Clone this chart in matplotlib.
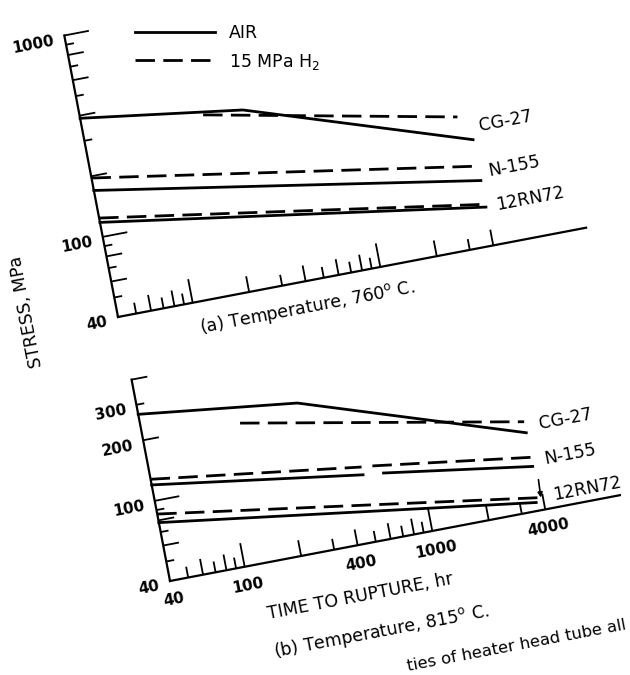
import numpy as np
import matplotlib
matplotlib.use("Agg")
import matplotlib.pyplot as plt
from matplotlib.transforms import Affine2D, blended_transform_factory
from matplotlib.scale import LogTransform
import mpl_toolkits.axisartist.floating_axes as floating_axes
from mpl_toolkits.axisartist.grid_finder import FixedLocator

plt.rcParams['font.family'] = ['DejaVu Sans']

# ------------------------------------------------------------------ data
hour_ticks = [50, 60, 70, 80, 90, 100, 200, 300, 400, 500, 600, 700, 800, 900,
              1000, 2000, 3000, 4000]
hour_labels_b = {40: "40", 100: "100", 400: "400", 1000: "1000", 4000: "4000"}
stress_ticks_a = [50, 60, 70, 80, 90, 100, 200, 300, 400, 500, 600, 700, 800, 900, 1000]
stress_labels_a = {40: "40", 100: "100", 1000: "1000"}
stress_ticks_b = [50, 60, 70, 80, 90, 100, 200, 300, 400]
stress_labels_b = {40: "40", 100: "100", 200: "200", 300: "300"}

alloys = ["CG-27", "N-155", "12RN72"]
environments = ["AIR", "15 MPa H$_2$"]

# (a) 760 C  -- time to rupture (hr) / stress (MPa)
a_cg27_air_hr = [40, 280, 4000]
a_cg27_air_mpa = [388, 302, 134]
a_cg27_h2_hr = [173, 3500]
a_cg27_h2_mpa = [311, 178]
a_n155_air_hr = [40, 4000]
a_n155_air_mpa = [170, 84]
a_n155_h2_hr = [40, 4000]
a_n155_h2_mpa = [196, 99]
a_12rn72_air_hr = [40, 4000]
a_12rn72_air_mpa = [118, 62]
a_12rn72_h2_hr = [40, 4000]
a_12rn72_h2_mpa = [124, 64]

# (b) 815 C
b_cg27_air_hr = [40, 270, 3800]
b_cg27_air_mpa = [269, 218, 97]
b_cg27_h2_hr = [131, 3800]
b_cg27_h2_mpa = [197, 110]
b_n155_air_hr = [40, 500, np.nan, 640, 3800]
b_n155_air_mpa = [120, 86, np.nan, 84, 66]
b_n155_h2_hr = [40, 500, np.nan, 570, 3900]
b_n155_h2_mpa = [128, 94, np.nan, 93, 73]
b_12rn72_air_hr = [40, 3650]
b_12rn72_air_mpa = [78, 44]
b_12rn72_h2_hr = [40, 3900]
b_12rn72_h2_mpa = [86, 46]

# ------------------------------------------------------------------ style
FIG_W, FIG_H = 630, 675
THETA = 10.8                 # tilt of the scanned page (deg)
PX_X, PX_Y = 191.0, 205.0    # pixels per decade
LW = 2.0
DASH = (0, (7, 3))
th = np.deg2rad(THETA)
U = np.array([np.cos(th), np.sin(th)])
V = np.array([-np.sin(th), np.cos(th)])


def foff(ds, dt):
    return tuple(ds * U + dt * V)


def tick_len(v, major, even, odd):
    if v in (100, 1000):
        return major
    return even if int(str(int(v))[0]) % 2 == 0 else odd


fig = plt.figure(figsize=(FIG_W / 100, FIG_H / 100), dpi=100)
fig.patch.set_facecolor("white")


def make_panel(corner_px, x_end, y_top, y_ticks):
    log_tr = blended_transform_factory(LogTransform(10), LogTransform(10))
    aux_tr = log_tr + Affine2D().scale(PX_X, PX_Y).rotate_deg(THETA)
    gh = floating_axes.GridHelperCurveLinear(
        aux_tr, extremes=(40, x_end, 40, y_top),
        grid_locator1=FixedLocator(hour_ticks),
        grid_locator2=FixedLocator(y_ticks))
    ax = fig.add_axes([0.1, 0.1, 0.8, 0.8], axes_class=floating_axes.FloatingAxes,
                      grid_helper=gh)
    x0, x1 = ax.get_xlim()
    y0, y1 = ax.get_ylim()
    cx, cy = aux_tr.transform((40, 40))
    w, h = x1 - x0, y1 - y0
    left = corner_px[0] - (cx - x0)
    bottom = (FIG_H - corner_px[1]) - (cy - y0)
    ax.set_position([left / FIG_W, bottom / FIG_H, w / FIG_W, h / FIG_H])
    ax.set_aspect("auto")
    for side in ["top", "right"]:
        ax.axis[side].set_visible(False)
    for side in ["left", "bottom"]:
        ax.axis[side].toggle(ticks=False, ticklabels=False, label=False)
        ax.axis[side].line.set_linewidth(1.6)
    aux = ax.get_aux_axes(aux_tr)
    # ticks (inside, hand-drawn look: long / medium / short)
    for v in hour_ticks:
        L = tick_len(v, 24, 16, 11)
        aux.plot([v, v], [40, 40 * 10 ** (L / PX_Y)], color="k", lw=1.3,
                 solid_capstyle="butt", clip_on=False)
    for v in y_ticks:
        L = tick_len(v, 25, 16, 8)
        aux.plot([40, 40 * 10 ** (L / PX_X)], [v, v], color="k", lw=1.3,
                 solid_capstyle="butt", clip_on=False)
    return ax, aux


def series(aux, hr, mpa, dashed):
    ls = DASH if dashed else "-"
    ln, = aux.plot(hr, mpa, color="k", lw=LW, linestyle=ls, clip_on=False)
    return ln


def ytick_labels(aux, labels):
    for v, t in labels.items():
        aux.annotate(t, xy=(40, v), xytext=foff(-11, -3), textcoords="offset pixels",
                     rotation=THETA, rotation_mode="anchor", ha="right", va="center",
                     fontsize=11, fontweight="bold", annotation_clip=False)


def xtick_labels(aux, labels):
    for v, t in labels.items():
        aux.annotate(t, xy=(v, 40), xytext=foff(0, -19), textcoords="offset pixels",
                     rotation=THETA, rotation_mode="anchor", ha="center", va="center",
                     fontsize=11, fontweight="bold", annotation_clip=False)


def series_label(aux, text, hr, mpa, off):
    aux.annotate(text, xy=(hr[-1], mpa[-1]), xytext=foff(*off), textcoords="offset pixels",
                 rotation=THETA, rotation_mode="anchor", ha="left", va="center",
                 fontsize=12.5, annotation_clip=False)


# ------------------------------------------------------------------ panel (a)
axa, auxa = make_panel((118, 317), 12500, 1000, stress_ticks_a)
l_air = series(auxa, a_cg27_air_hr, a_cg27_air_mpa, False)
l_h2 = series(auxa, a_cg27_h2_hr, a_cg27_h2_mpa, True)
series(auxa, a_n155_air_hr, a_n155_air_mpa, False)
series(auxa, a_n155_h2_hr, a_n155_h2_mpa, True)
series(auxa, a_12rn72_air_hr, a_12rn72_air_mpa, False)
series(auxa, a_12rn72_h2_hr, a_12rn72_h2_mpa, True)
ytick_labels(auxa, stress_labels_a)
series_label(auxa, alloys[0], a_cg27_h2_hr, a_cg27_h2_mpa, (20, -13))
series_label(auxa, alloys[1], a_n155_h2_hr, a_n155_h2_mpa, (9, -7))
series_label(auxa, alloys[2], a_12rn72_h2_hr, a_12rn72_h2_mpa, (10, -3))

# ------------------------------------------------------------------ panel (b)
axb, auxb = make_panel((170, 581), 10000, 400, stress_ticks_b)
series(auxb, b_cg27_air_hr, b_cg27_air_mpa, False)
series(auxb, b_cg27_h2_hr, b_cg27_h2_mpa, True)
series(auxb, b_n155_air_hr, b_n155_air_mpa, False)
series(auxb, b_n155_h2_hr, b_n155_h2_mpa, True)
series(auxb, b_12rn72_air_hr, b_12rn72_air_mpa, False)
series(auxb, b_12rn72_h2_hr, b_12rn72_h2_mpa, True)
ytick_labels(auxb, stress_labels_b)
xtick_labels(auxb, hour_labels_b)
series_label(auxb, alloys[0], b_cg27_h2_hr, b_cg27_h2_mpa, (14, -5))
series_label(auxb, alloys[1], b_n155_h2_hr, b_n155_h2_mpa, (11, -4))
series_label(auxb, alloys[2], b_12rn72_h2_hr, b_12rn72_h2_mpa, (13, 0))
auxb.annotate("", xy=(b_12rn72_h2_hr[-1], b_12rn72_h2_mpa[-1]), xytext=foff(1, 18),
              textcoords="offset pixels", annotation_clip=False,
              arrowprops=dict(arrowstyle="-|>", lw=1.2, color="k", mutation_scale=7,
                              shrinkA=0, shrinkB=0))

# ------------------------------------------------------------------ texts


def ftext(x, y, s, **kw):
    fig.text(x / FIG_W, 1 - y / FIG_H, s, **kw)


ftext(27, 312, "STRESS, MPa", rotation=90 + THETA, rotation_mode="anchor",
      ha="center", va="center", fontsize=12.5)
ftext(308, 313, "(a) Temperature, 760$^{\\rm o}$ C.", rotation=THETA,
      rotation_mode="anchor", ha="center", va="baseline", fontsize=12.5)
ftext(361, 601, "TIME TO RUPTURE, hr", rotation=THETA, rotation_mode="anchor",
      ha="center", va="baseline", fontsize=12.5)
ftext(382, 637, "(b) Temperature, 815$^{\\rm o}$ C.", rotation=THETA,
      rotation_mode="anchor", ha="center", va="baseline", fontsize=12.5)
ftext(627, 629, "ties of heater head tube all", rotation=THETA,
      rotation_mode="anchor", ha="right", va="baseline", fontsize=11.8)

fig.legend(handles=[l_air, l_h2], labels=environments, loc="upper left",
           bbox_to_anchor=(135 / FIG_W, 1 - 24 / FIG_H), frameon=False,
           handlelength=4.6, handletextpad=0.8, labelspacing=0.55,
           borderpad=0, borderaxespad=0, fontsize=12.5)

fig.savefig("out.png", dpi=100, facecolor="white")
